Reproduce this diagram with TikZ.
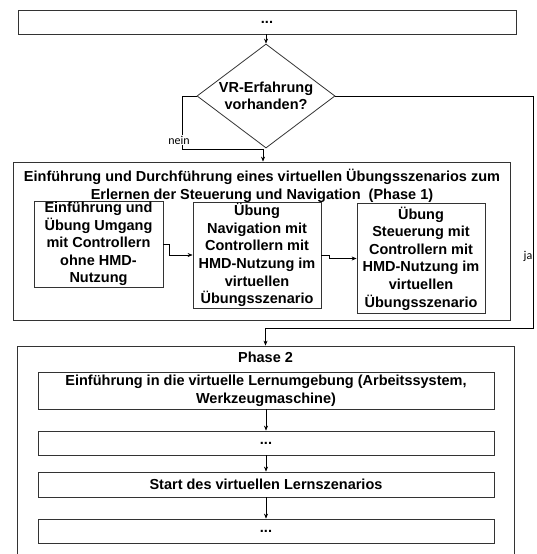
\documentclass[tikz,border=0pt]{standalone}
\usepackage{fontspec}
\setmainfont{Liberation Sans}
\newfontfamily\lblfam{Carlito}
\usetikzlibrary{shapes.geometric,arrows.meta}
\newcommand\bfnt{\fontsize{14.5}{17.6}\selectfont\bfseries}
\newcommand\lblfnt{\lblfam\fontsize{12}{13}\selectfont}
\definecolor{boxline}{HTML}{333333}
\tikzset{
  box/.style={draw=boxline, line width=0.8pt, inner sep=0pt, align=center, font=\bfnt},
  plain/.style={inner sep=0pt, align=center, font=\bfnt},
  conn/.style={draw=black, line width=0.6pt, -{Stealth[length=5pt,width=4pt]}},
  lbl/.style={fill=white, inner sep=1pt, font=\lblfnt},
}
\begin{document}
\begin{tikzpicture}[x=1pt,y=-1pt]
\useasboundingbox (0,0) rectangle (537,554);
\clip (0,0) rectangle (537,554);
% top box
\node[box, minimum width=498pt, minimum height=24pt] (top) at (267,22) {...};
% decision
\node[box, shape=diamond, shape aspect=1.4, minimum width=138pt, minimum height=104pt] (dec) at (266,96) {VR-Erfahrung\\vorhanden?};
% phase 1
\node[box, minimum width=497pt, minimum height=158pt] (phaseone) at (261.5,241) {};
\node[plain] (title1) at (262,186) {Einführung und Durchführung eines virtuellen Übungsszenarios zum\\Erlernen der Steuerung und Navigation\ \ (Phase 1)};
\node[box, minimum width=129pt, minimum height=86pt] (A) at (98.5,244) {Einführung und\\Übung Umgang\\mit Controllern\\ohne HMD-\\Nutzung};
\node[box, minimum width=128pt, minimum height=106pt] (B) at (257,255) {Übung\\Navigation mit\\Controllern mit\\HMD-Nutzung im\\virtuellen\\Übungsszenario};
\node[box, minimum width=128pt, minimum height=110pt] (C) at (421,258.5) {Übung\\Steuerung mit\\Controllern mit\\HMD-Nutzung im\\virtuellen\\Übungsszenario};
% phase 2
\node[box, minimum width=497pt, minimum height=254pt] (phasetwo) at (265.5,473) {};
\node[plain] (title2) at (265.5,357) {Phase 2};
\node[box, minimum width=456pt, minimum height=37pt] (p1) at (266,390.5) {Einführung in die virtuelle Lernumgebung (Arbeitssystem,\\Werkzeugmaschine)};
\node[box, minimum width=456pt, minimum height=24pt] (p2) at (266,443) {...};
\node[box, minimum width=456pt, minimum height=25pt] (p3) at (266,484.5) {Start des virtuellen Lernszenarios};
\node[box, minimum width=456pt, minimum height=24pt] (p4) at (266,531) {...};
% connectors
\draw[conn] (dec.north |- top.south) -- (dec.north);
\coordinate (nk) at (263,149);
\draw[conn] (dec.west) -- ++(-14,0) |- (nk) -- (nk |- phaseone.north);
\node[lbl] (nein) at (179,140) {nein};
\coordinate (jc) at (533,328);
\draw[conn] (dec.east) -| (jc) -- (jc -| phasetwo.north) -- (phasetwo.north);
\node[lbl] (ja) at (528,256) {ja};
\draw[conn] (A.east) -- ++(6,0) |- (B.west);
\draw[conn] (B.east) -- ++(8,0) |- (C.west);
\draw[conn] (p1.south) -- (p2.north);
\draw[conn] (p2.south) -- (p3.north);
\draw[conn] (p3.south) -- (p4.north);
\end{tikzpicture}
\end{document}
